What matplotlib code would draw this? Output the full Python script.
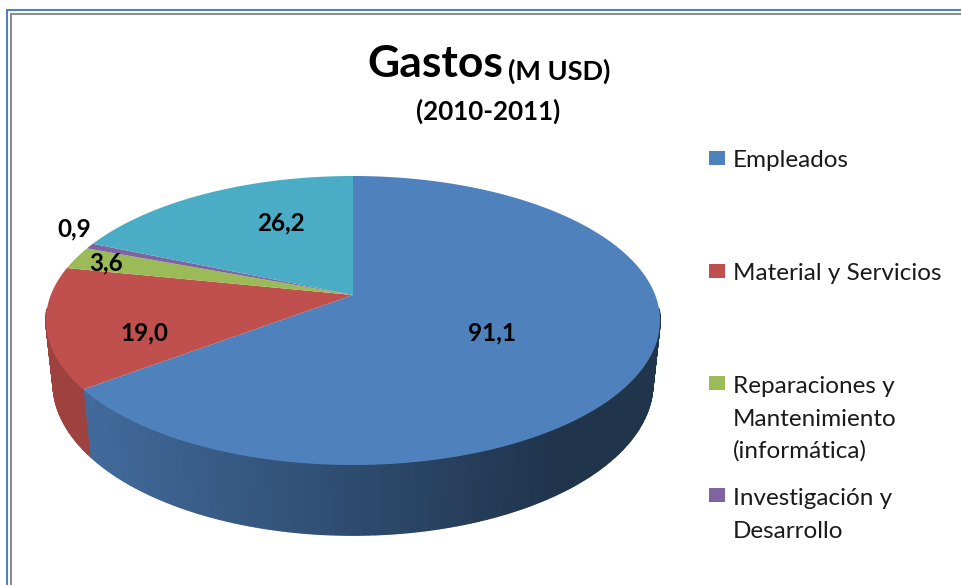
import numpy as np
import matplotlib
matplotlib.use('Agg')
import matplotlib.pyplot as plt
from matplotlib.patches import Rectangle

# Gastos 2010-2011 en millones de USD
gastos = [91.1, 19.0, 3.6, 0.9, 26.2]
colores = ['#4f81bd', '#c0504d', '#9bbb59', '#8064a2', '#4bacc6']
etiquetas = ['Empleados', 'Material y Servicios', 'Reparaciones y\nMantenimiento\n(informática)',
             'Investigación y\nDesarrollo']

# posiciones en pixeles
pos_valores = [(492, 333), (144, 333), (106, 263), (74, 229), (281, 223)]
pos_marcas = [158, 271, 383, 495]
pos_leyenda = [167, 280, 393, 505]
interlineado = 32.5

# proyeccion del disco: centro, semiejes, perspectiva y grosor
CX, CY = 353, 295
A, B, K = 302.2, 140.0, 0.1765
M, D = 0.023, 63.3


def proyectar(theta, prof=0.0):
    u, v = np.sin(theta), np.cos(theta)
    w = 1 + K * v + M * prof
    return CX + A * u / w, CY + (-B * v + D * prof) / w


def sombra(color, x):
    # el lateral se oscurece hacia la derecha
    t = np.clip((x - 90) / 470, 0, 1)
    c = np.array(matplotlib.colors.to_rgb(color))
    return c * (0.82 - 0.42 * t)


fig = plt.figure(figsize=(9.62, 5.85), dpi=100)
ax = fig.add_axes([0, 0, 1, 1])
ax.set_xlim(0, 962)
ax.set_ylim(585, 0)
ax.axis('off')

# marcos exteriores
ax.plot([7, 7, 970], [600, 10, 10], color='#4f81bd', lw=1.5, solid_joinstyle='miter')
ax.plot([11, 11, 970], [600, 14, 14], color='#8c8c8c', lw=1.5, solid_joinstyle='miter')

limites = np.cumsum([0] + gastos) / sum(gastos) * 2 * np.pi

# lateral, solo la parte frontal
pasos = np.linspace(0, 2 * np.pi, 721)
for i in range(720):
    t0, t1 = pasos[i], pasos[i + 1]
    if np.cos(t0) > -0.1 and np.cos(t1) > -0.1:
        continue
    k = np.searchsorted(limites, (t0 + t1) / 2) - 1
    x0, y0 = proyectar(t0)
    x1, y1 = proyectar(t1)
    x2, y2 = proyectar(t1, 1)
    x3, y3 = proyectar(t0, 1)
    c = sombra(colores[k], (x0 + x1) / 2)
    ax.fill([x0, x1, x2, x3], [y0, y1, y2, y3], color=c, lw=1.0, zorder=2)

# cara superior
for k, color in enumerate(colores):
    th = np.linspace(limites[k], limites[k + 1], 200)
    xs, ys = proyectar(th)
    ax.fill(np.r_[CX, xs], np.r_[CY, ys], color=color, lw=0, zorder=3)

# valores
for v, (x, y) in zip(gastos, pos_valores):
    ax.text(x, y, f'{v:.1f}'.replace('.', ','), ha='center', va='center', fontsize=17.5,
            fontweight='bold', family='Lato', color='black', zorder=5)

# titulo
ax.text(367, 64, 'Gastos', ha='left', va='center', fontsize=32, fontweight='bold', family='Lato')
ax.text(508, 71, '(M USD)', ha='left', va='center', fontsize=19.5, fontweight='bold', family='Lato')
ax.text(488.5, 111, '(2010-2011)', ha='center', va='center', fontsize=18.6, fontweight='bold', family='Lato')

# leyenda
for texto, ym, yt, color in zip(etiquetas, pos_marcas, pos_leyenda, colores):
    ax.add_patch(Rectangle((709, ym - 7), 16, 14, color=color, lw=0))
    for j, linea in enumerate(texto.split('\n')):
        ax.text(733, yt + j * interlineado, linea, ha='left', va='baseline', fontsize=17.5,
                family='Lato', color='#1a1a1a')

fig.savefig('out.png', dpi=100)
